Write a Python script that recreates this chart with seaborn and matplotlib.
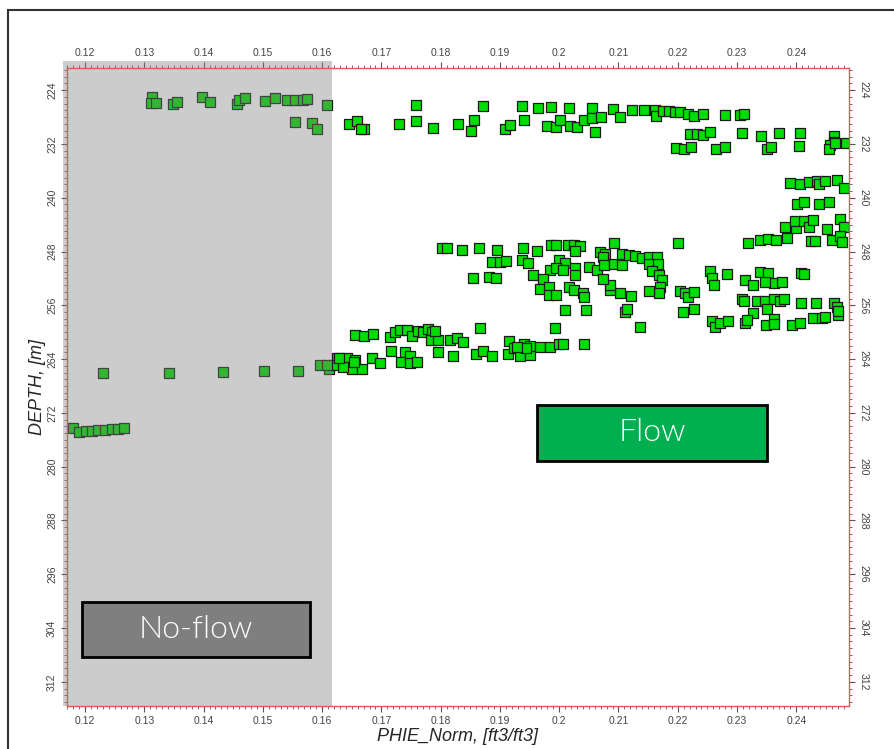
import matplotlib
matplotlib.use("Agg")
import matplotlib.pyplot as plt
import matplotlib.patches as patches
from matplotlib.ticker import MultipleLocator, FixedLocator, FuncFormatter
import numpy as np
import pandas as pd
import seaborn as sns

phie_top_gray = [0.1313, 0.1311, 0.1320, 0.1348, 0.1355, 0.1397, 0.1411, 0.1457, 0.1460, 0.1470,
                 0.1504, 0.1520, 0.1541, 0.1554, 0.1568, 0.1575, 0.1609, 0.1554, 0.1583, 0.1592]
depth_top_gray = [225.0, 225.9, 225.9, 226.1, 225.8, 225.0, 225.7, 226.1, 225.5, 225.1,
                  225.6, 225.2, 225.4, 225.4, 225.4, 225.3, 226.2, 228.8, 228.9, 229.8]

phie_top = [0.1646, 0.1659, 0.1670, 0.1665, 0.1729, 0.1758, 0.1758, 0.1787, 0.1830, 0.1857,
            0.1851, 0.1872, 0.1909, 0.1917, 0.1937, 0.1941, 0.1965, 0.1979, 0.1986, 0.1995,
            0.2002, 0.2016, 0.2019, 0.2030, 0.2041, 0.2055, 0.2055, 0.2061, 0.2070, 0.2091,
            0.2103, 0.2122, 0.2143, 0.2162, 0.2164, 0.2175, 0.2186, 0.2196, 0.2204, 0.2217,
            0.2228, 0.2242, 0.2280, 0.2305, 0.2312,
            0.2220, 0.2232, 0.2242, 0.2255, 0.2308, 0.2340, 0.2370, 0.2406,
            0.2197, 0.2211, 0.2222, 0.2265, 0.2280, 0.2350, 0.2357, 0.2405, 0.2464, 0.2463,
            0.2457, 0.2455, 0.2466, 0.2484]
depth_top = [229.0, 228.6, 229.8, 229.7, 229.1, 226.2, 228.6, 229.6, 229.1, 228.5,
             230.0, 226.4, 229.7, 229.2, 226.4, 228.5, 226.6, 229.4, 226.5, 229.5,
             228.4, 226.7, 229.4, 229.5, 228.4, 226.7, 228.2, 230.2, 228.0, 226.8,
             228.0, 226.9, 227.0, 227.0, 227.9, 227.1, 227.1, 227.2, 227.2, 227.5,
             227.9, 227.5, 227.7, 227.7, 227.6,
             230.5, 230.5, 230.7, 230.2, 230.4, 230.8, 230.4, 230.3,
             232.6, 232.7, 232.5, 232.7, 232.4, 232.8, 232.4, 232.3, 230.8, 231.7,
             232.2, 232.8, 231.9, 231.9]

phie_right = [0.2390, 0.2406, 0.2422, 0.2435, 0.2438, 0.2449, 0.2468, 0.2480,
              0.2402, 0.2413, 0.2439, 0.2456,
              0.2381, 0.2400, 0.2398, 0.2413, 0.2422, 0.2429, 0.2451, 0.2473, 0.2481,
              0.2318, 0.2339, 0.2352, 0.2365, 0.2385, 0.2424, 0.2432, 0.2460, 0.2474, 0.2477,
              0.2200,
              0.2255, 0.2258, 0.2283, 0.2314, 0.2339, 0.2352, 0.2362, 0.2408, 0.2413, 0.2261,
              0.2327, 0.2348, 0.2376]
depth_right = [237.8, 237.9, 237.6, 237.5, 237.9, 237.5, 237.4, 238.5,
               240.9, 240.7, 240.9, 240.7,
               244.4, 244.5, 243.5, 243.5, 244.4, 243.3, 244.6, 243.2, 244.3,
               246.7, 246.3, 246.1, 246.3, 246.0, 246.4, 246.5, 246.3, 245.7, 246.6,
               246.7,
               250.9, 252.0, 251.4, 252.3, 251.0, 251.2, 252.7, 251.2, 251.4, 253.0,
               253.0, 252.5, 252.6]

phie_mid = [0.1802, 0.1810, 0.1836, 0.1864, 0.1895, 0.1939, 0.1963, 0.1986, 0.1995, 0.2014,
            0.2025, 0.2035, 0.2027, 0.2092, 0.2069, 0.2078,
            0.1886, 0.1900, 0.1911, 0.1937, 0.1948, 0.1999, 0.2010, 0.1985, 0.1995, 0.2007,
            0.2027, 0.2027, 0.2050, 0.2063, 0.2074, 0.2075, 0.2093, 0.2106, 0.2106, 0.2117,
            0.2128, 0.2139, 0.2151, 0.2165, 0.2151, 0.2166, 0.2156, 0.2169, 0.2173, 0.2170,
            0.2169, 0.2152, 0.2121, 0.2103, 0.2086, 0.2085, 0.2074,
            0.1955, 0.1973, 0.1854, 0.1881, 0.1894, 0.1968, 0.1982, 0.1982, 0.1995, 0.2016,
            0.2025, 0.2040, 0.2042, 0.2204, 0.2213, 0.2218, 0.2227]
depth_mid = [247.5, 247.5, 247.8, 247.4, 247.7, 247.4, 247.9, 247.0, 247.0, 247.0,
             247.0, 247.2, 247.9, 246.8, 248.0, 248.3,
             249.5, 249.5, 249.4, 249.2, 249.7, 249.2, 249.7, 250.7, 250.5, 250.7,
             250.4, 251.5, 250.3, 250.7, 248.8, 250.0, 249.8, 250.0, 248.4, 248.5,
             248.7, 249.0, 248.8, 248.8, 249.8, 249.9, 250.9, 251.5, 252.2, 253.2,
             254.2, 253.9, 254.6, 254.2, 253.7, 253.0, 252.1,
             251.5, 252.1, 252.0, 251.8, 252.0, 253.5, 253.3, 254.5, 254.5, 253.3,
             253.7, 254.2, 254.7, 253.8, 254.1, 254.7, 254.0]

phie_low_right = [0.2010, 0.2046, 0.2111, 0.2114, 0.1867, 0.1993, 0.2136, 0.2209, 0.2227,
                  0.2308, 0.2311, 0.2333, 0.2348, 0.2362, 0.2373, 0.2379, 0.2408, 0.2434,
                  0.2463, 0.2468, 0.2470, 0.2471,
                  0.2327, 0.2350, 0.2258, 0.2263, 0.2272, 0.2284, 0.2314, 0.2317, 0.2349,
                  0.2362, 0.2362, 0.2393, 0.2407, 0.2428, 0.2443, 0.2449]
depth_low_right = [256.7, 256.7, 257.0, 256.6, 259.4, 259.3, 259.2, 257.0, 256.5,
                   255.0, 255.3, 255.3, 255.3, 255.1, 255.3, 255.0, 255.6, 255.6,
                   255.6, 256.3, 257.4, 256.9,
                   257.1, 256.5, 258.4, 259.2, 258.6, 258.4, 258.6, 258.2, 258.9,
                   258.1, 258.8, 258.9, 258.7, 257.9, 257.9, 257.7]

phie_low = [0.1597, 0.1611, 0.1625, 0.1633, 0.1642, 0.1650, 0.1656, 0.1667, 0.1636, 0.1619,
            0.1628, 0.1653, 0.1608,
            0.1656, 0.1670, 0.1686, 0.1684, 0.1698, 0.1714, 0.1716, 0.1723, 0.1732, 0.1740,
            0.1733, 0.1748, 0.1748, 0.1760, 0.1743, 0.1751, 0.1761, 0.1771, 0.1779, 0.1785,
            0.1783, 0.1795, 0.1795, 0.1791, 0.1816, 0.1827, 0.1838, 0.1821, 0.1860, 0.1871,
            0.1886, 0.1913, 0.1916, 0.1924, 0.1934, 0.1940, 0.1950, 0.1951, 0.1944, 0.1968,
            0.1984, 0.2000, 0.2007, 0.2042, 0.1929]
depth_low = [264.9, 265.5, 263.9, 264.6, 263.8, 265.4, 264.1, 265.4, 265.2, 264.9,
             263.9, 264.4, 264.9,
             260.4, 260.5, 260.2, 263.9, 264.6, 260.7, 262.8, 259.9, 259.7, 263.0,
             264.4, 263.6, 264.6, 264.4, 259.7, 260.5, 259.8, 260.0, 259.5, 259.9,
             261.2, 261.1, 262.9, 259.8, 261.2, 260.8, 261.4, 263.6, 263.3, 262.8,
             263.5, 263.3, 261.3, 262.3, 263.5, 261.8, 263.4, 262.0, 262.4, 262.2,
             262.2, 261.8, 261.7, 261.8, 262.2]

phie_base_gray = [0.1231, 0.1342, 0.1432, 0.1502, 0.1560,
                  0.1179, 0.1190, 0.1202, 0.1211, 0.1222, 0.1234, 0.1245, 0.1256, 0.1266]
depth_base_gray = [266.0, 266.0, 265.9, 265.8, 265.8,
                   274.2, 274.8, 274.7, 274.7, 274.5, 274.5, 274.4, 274.4, 274.2]

cutoff = 0.1617
x_ticks = [0.12, 0.13, 0.14, 0.15, 0.16, 0.17, 0.18, 0.19, 0.20, 0.21, 0.22, 0.23, 0.24]
y_ticks = [224, 232, 240, 248, 256, 264, 272, 280, 288, 296, 304, 312]

df = pd.DataFrame({
    "PHIE_Norm": phie_top_gray + phie_top + phie_right + phie_mid + phie_low_right + phie_low + phie_base_gray,
    "DEPTH": depth_top_gray + depth_top + depth_right + depth_mid + depth_low_right + depth_low + depth_base_gray,
})

sns.set_style("white")
plt.rcParams["font.family"] = ["Liberation Sans", "DejaVu Sans"]

fig = plt.figure(figsize=(8.94, 7.49), dpi=100)
ax = fig.add_axes([0.0746, 0.0574, 0.8751, 0.8518])

sns.scatterplot(data=df, x="PHIE_Norm", y="DEPTH", marker="s", s=46,
                color="#00dd00", edgecolor="#1a1a1a", linewidth=0.9, ax=ax, zorder=1)

ax.set_xlim(0.1169, 0.2489)
ax.set_ylim(315.6, 220.7)

# no-flow shading laid over the points
ax.axvspan(0.11628, cutoff, ymin=0, ymax=1.011, color="#808080", alpha=0.4,
           lw=0, zorder=2, clip_on=False)

for s in ax.spines.values():
    s.set_color("#e05a5a")
    s.set_linewidth(1.0)
    s.set_zorder(3)

ax.xaxis.set_major_locator(FixedLocator(x_ticks))
ax.xaxis.set_minor_locator(MultipleLocator(0.001))
ax.yaxis.set_major_locator(FixedLocator(y_ticks))
ax.yaxis.set_minor_locator(MultipleLocator(1))
ax.xaxis.set_major_formatter(FuncFormatter(lambda v, p: "%g" % round(v, 3)))
ax.yaxis.set_major_formatter(FuncFormatter(lambda v, p: "%d" % v))

ax.tick_params(which="both", direction="out", color="#555555",
               bottom=True, left=True, top=True, right=True,
               labeltop=True, labelright=True, labelsize=7.5, labelcolor="#444444")
ax.tick_params(which="major", length=4, width=0.8, pad=3)
ax.tick_params(which="minor", length=2, width=0.6)

for t in ax.yaxis.get_major_ticks():
    t.label1.set_rotation(90)
    t.label1.set_va("center")
    t.label2.set_rotation(270)
    t.label2.set_va("center")

ax.set_xlabel("PHIE_Norm, [ft3/ft3]", fontsize=13, style="italic")
ax.set_ylabel("DEPTH, [m]", fontsize=13, style="italic")
ax.xaxis.set_label_coords(0.5, -0.035)
ax.yaxis.set_label_coords(-0.026, 0.5)
ax.grid(False)

# annotation boxes
ax.add_patch(patches.Rectangle((0.0196, 0.0768), 0.2914, 0.0862, transform=ax.transAxes,
                               facecolor="#7f7f7f", edgecolor="black", lw=2, zorder=4))
ax.text(0.1653, 0.1199, "No-flow", transform=ax.transAxes, ha="center", va="center",
        color="white", fontsize=23, weight=300, family=["Lato", "DejaVu Sans"], zorder=5)
ax.add_patch(patches.Rectangle((0.601, 0.384), 0.294, 0.088, transform=ax.transAxes,
                               facecolor="#00b050", edgecolor="black", lw=2, zorder=4))
ax.text(0.748, 0.428, "Flow", transform=ax.transAxes, ha="center", va="center",
        color="white", fontsize=23, weight=300, family=["Lato", "DejaVu Sans"], zorder=5)

# outer window frame
fig.add_artist(patches.Rectangle((7.5 / 894, -0.05), 1.1, 1.05 - 10 / 749,
                                 transform=fig.transFigure, fill=False,
                                 edgecolor="#333333", lw=1.5))

fig.savefig("out.png", dpi=100)
